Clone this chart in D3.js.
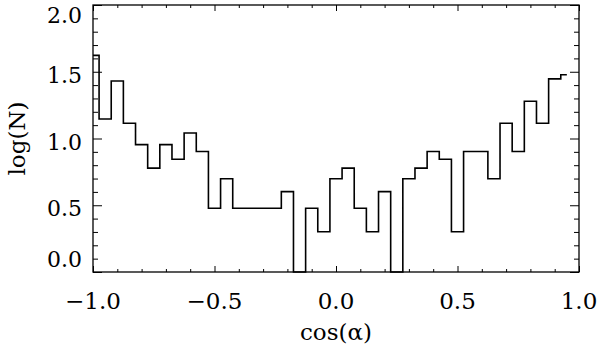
<!DOCTYPE html>
<html>
<head>
<meta charset="utf-8">
<script src="https://cdn.jsdelivr.net/npm/d3@7"></script>
<style>
  html, body { margin: 0; padding: 0; background: #fff; }
  svg { display: block; }
  text { font-family: "DejaVu Serif", serif; fill: #000; }
</style>
</head>
<body>
<div id="chart"></div>
<script>
// bin centres of cos(alpha) and log(N) per bin
const binCenters = [-1.00, -0.95, -0.90, -0.85, -0.80, -0.75, -0.70, -0.65, -0.60, -0.55,
                    -0.50, -0.45, -0.40, -0.35, -0.30, -0.25, -0.20, -0.15, -0.10, -0.05,
                     0.00,  0.05,  0.10,  0.15,  0.20,  0.25,  0.30,  0.35,  0.40,  0.45,
                     0.50,  0.55,  0.60,  0.65,  0.70,  0.75,  0.80,  0.85,  0.90,  0.95];
const logN = [1.623, 1.146, 1.431, 1.114, 0.954, 0.778, 0.954, 0.845, 1.041, 0.903,
              0.477, 0.699, 0.477, 0.477, 0.477, 0.477, 0.602, 0.000, 0.477, 0.301,
              0.699, 0.778, 0.477, 0.301, 0.602, 0.000, 0.699, 0.778, 0.903, 0.845,
              0.301, 0.903, 0.903, 0.699, 1.114, 0.903, 1.279, 1.114, 1.447, 1.477];

const xTicks = [-1.0, -0.5, 0.0, 0.5, 1.0];
const xTickLabels = ['\u22121.0', '\u22120.5', '0.0', '0.5', '1.0'];
const yTicks = [0.0, 0.5, 1.0, 1.5, 2.0];
const yTickLabels = ['0.0', '0.5', '1.0', '1.5', '2.0'];
const xMinor = [-0.9, -0.8, -0.7, -0.6, -0.4, -0.3, -0.2, -0.1, 0.1, 0.2, 0.3, 0.4, 0.6, 0.7, 0.8, 0.9];
const yMinor = [0.1, 0.2, 0.3, 0.4, 0.6, 0.7, 0.8, 0.9, 1.1, 1.2, 1.3, 1.4, 1.6, 1.7, 1.8, 1.9];

const width = 600, height = 348;
const margin = {top: 5, right: 21, bottom: 76, left: 93};
const iw = width - margin.left - margin.right;
const ih = height - margin.top - margin.bottom;

const svg = d3.select('#chart').append('svg')
  .attr('width', width)
  .attr('height', height);

const g = svg.append('g').attr('transform', `translate(${margin.left},${margin.top})`);

const x = d3.scaleLinear().domain([-1, 1]).range([0, iw]);
const y = d3.scaleLinear().domain([0, 2]).range([ih, 0]);

// histogram steps, IDL psym=10 style: half bins at the ends
const pts = [];
binCenters.forEach((c, i) => {
  const left = i === 0 ? c : (binCenters[i - 1] + c) / 2;
  const right = i === binCenters.length - 1 ? c : (c + binCenters[i + 1]) / 2;
  pts.push([left, logN[i]]);
  pts.push([right, logN[i]]);
});

const line = d3.line().x(d => x(d[0])).y(d => y(d[1]));

g.append('path')
  .datum(pts)
  .attr('fill', 'none')
  .attr('stroke', '#000')
  .attr('stroke-width', 1.6)
  .attr('stroke-linejoin', 'miter')
  .attr('d', line);

// axes box with ticks on all four sides
function tickAxis(axisGen, tf) {
  const a = g.append('g').attr('transform', tf).call(axisGen);
  a.select('.domain').remove();
  a.selectAll('line').attr('stroke', '#000').attr('stroke-width', 1);
  a.selectAll('text').remove();
}
tickAxis(d3.axisBottom(x).tickValues(xTicks).tickSize(-6), `translate(0,${ih})`);
tickAxis(d3.axisBottom(x).tickValues(xMinor).tickSize(-3), `translate(0,${ih})`);
tickAxis(d3.axisTop(x).tickValues(xTicks).tickSize(-6), 'translate(0,0)');
tickAxis(d3.axisTop(x).tickValues(xMinor).tickSize(-3), 'translate(0,0)');
tickAxis(d3.axisLeft(y).tickValues(yTicks).tickSize(-9), 'translate(0,0)');
tickAxis(d3.axisLeft(y).tickValues(yMinor).tickSize(-5), 'translate(0,0)');
tickAxis(d3.axisRight(y).tickValues(yTicks).tickSize(-9), `translate(${iw},0)`);
tickAxis(d3.axisRight(y).tickValues(yMinor).tickSize(-5), `translate(${iw},0)`);

g.append('rect')
  .attr('x', 0).attr('y', 0)
  .attr('width', iw).attr('height', ih)
  .attr('fill', 'none')
  .attr('stroke', '#000')
  .attr('stroke-width', 1.3);

// tick labels
g.selectAll('.xlab').data(xTicks).enter().append('text')
  .attr('class', 'xlab')
  .attr('x', d => x(d))
  .attr('y', ih + 37)
  .attr('text-anchor', 'middle')
  .style('font-size', '23px')
  .text((d, i) => xTickLabels[i]);

// end labels are pulled inside the axis range, like the original plot
g.selectAll('.ylab').data(yTicks).enter().append('text')
  .attr('class', 'ylab')
  .attr('x', -11)
  .attr('y', d => Math.max(18, Math.min(ih - 5, y(d) + 11)))
  .attr('text-anchor', 'end')
  .style('font-size', '22px')
  .text((d, i) => yTickLabels[i]);

// axis titles
g.append('text')
  .attr('x', x(0))
  .attr('y', ih + 68)
  .attr('text-anchor', 'middle')
  .style('font-size', '23px')
  .text('cos(\u03b1)');

svg.append('text')
  .attr('transform', `translate(25,${margin.top + y(1)}) rotate(-90)`)
  .attr('text-anchor', 'middle')
  .style('font-size', '23px')
  .text('log(N)');
</script>
</body>
</html>
